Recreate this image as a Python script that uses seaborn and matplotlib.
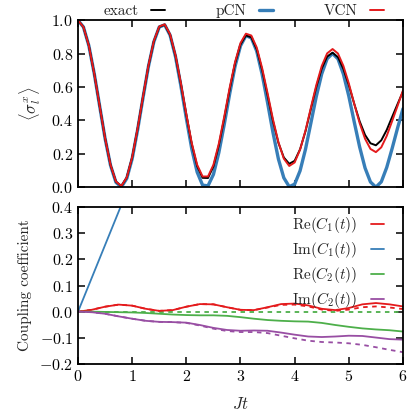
import numpy as np
import pandas as pd
import seaborn as sns
import matplotlib.pyplot as plt

# top panel: <sigma_l^x>(Jt), sampled every 0.1
t_top = [round(0.1 * i, 1) for i in range(61)]
exact = [1.000, 0.960, 0.848, 0.680, 0.486, 0.293, 0.133, 0.033, 0.006, 0.058,
         0.178, 0.350, 0.541, 0.727, 0.874, 0.961, 0.974, 0.913, 0.787, 0.617,
         0.432, 0.259, 0.126, 0.056, 0.055, 0.124, 0.251, 0.413, 0.586, 0.742,
         0.855, 0.910, 0.898, 0.826, 0.702, 0.551, 0.396, 0.266, 0.178, 0.140,
         0.158, 0.227, 0.335, 0.469, 0.601, 0.711, 0.783, 0.806, 0.779, 0.709,
         0.611, 0.500, 0.395, 0.313, 0.263, 0.251, 0.281, 0.343, 0.421, 0.498,
         0.573]
pcn = [1.000, 0.960, 0.848, 0.680, 0.485, 0.291, 0.131, 0.029, 0.001, 0.052,
       0.171, 0.343, 0.536, 0.723, 0.871, 0.960, 0.973, 0.911, 0.782, 0.606,
       0.413, 0.230, 0.090, 0.012, 0.008, 0.076, 0.207, 0.376, 0.559, 0.725,
       0.847, 0.908, 0.895, 0.815, 0.676, 0.506, 0.327, 0.169, 0.056, 0.003,
       0.018, 0.098, 0.227, 0.385, 0.544, 0.679, 0.770, 0.801, 0.769, 0.678,
       0.546, 0.391, 0.241, 0.115, 0.031, 0.000, 0.032, 0.118, 0.232, 0.354,
       0.470]
vcn = [1.000, 0.960, 0.848, 0.680, 0.486, 0.293, 0.134, 0.034, 0.007, 0.059,
       0.180, 0.352, 0.543, 0.729, 0.876, 0.963, 0.976, 0.916, 0.791, 0.622,
       0.437, 0.265, 0.134, 0.064, 0.064, 0.134, 0.261, 0.423, 0.596, 0.751,
       0.864, 0.920, 0.909, 0.837, 0.713, 0.563, 0.406, 0.270, 0.171, 0.127,
       0.148, 0.225, 0.339, 0.477, 0.612, 0.726, 0.802, 0.828, 0.801, 0.727,
       0.622, 0.500, 0.384, 0.290, 0.229, 0.210, 0.239, 0.307, 0.396, 0.487,
       0.580]

# bottom panel: coupling coefficients, sampled every 0.25
t_bot = [0.25 * i for i in range(25)]
re_c1 = [0.000, 0.007, 0.019, 0.027, 0.023, 0.011, 0.003, 0.006, 0.019, 0.029,
         0.028, 0.017, 0.007, 0.006, 0.017, 0.029, 0.031, 0.024, 0.011, 0.006,
         0.014, 0.028, 0.033, 0.028, 0.020]
re_c1_ref = [0.000, 0.007, 0.019, 0.027, 0.023, 0.011, 0.003, 0.006, 0.019, 0.029,
             0.028, 0.017, 0.007, 0.006, 0.016, 0.026, 0.027, 0.020, 0.008, 0.003,
             0.008, 0.017, 0.020, 0.016, 0.010]
t_im_c1 = [0, 1, 2, 3, 4, 5, 6]
im_c1 = [0.0, 0.51, 1.02, 1.53, 2.04, 2.55, 3.06]
re_c2 = [0.000, 0.000, -0.001, -0.002, -0.003, -0.005, -0.008, -0.011, -0.013, -0.014,
         -0.014, -0.016, -0.021, -0.027, -0.032, -0.035, -0.037, -0.038, -0.043, -0.051,
         -0.058, -0.064, -0.068, -0.071, -0.076]
re_c2_ref = [0.0] * 25
im_c2 = [0.000, -0.002, -0.008, -0.018, -0.027, -0.035, -0.039, -0.040, -0.042, -0.051,
         -0.062, -0.070, -0.073, -0.072, -0.073, -0.080, -0.088, -0.095, -0.097, -0.095,
         -0.092, -0.093, -0.099, -0.105, -0.107]
im_c2_ref = [0.000, -0.002, -0.008, -0.018, -0.027, -0.035, -0.039, -0.040, -0.043, -0.053,
             -0.065, -0.074, -0.078, -0.078, -0.082, -0.092, -0.102, -0.111, -0.116, -0.118,
             -0.121, -0.127, -0.136, -0.146, -0.155]

red, blue, green, purple = '#e41a1c', '#377eb8', '#4daf4a', '#984ea3'

sns.set_style('ticks')
plt.rcParams['font.family'] = ['cmr10', 'DejaVu Serif']
plt.rcParams['mathtext.fontset'] = 'cm'
plt.rcParams['axes.formatter.use_mathtext'] = True

fig = plt.figure(figsize=(4.15, 4.15), dpi=100)
ax1 = fig.add_axes([0.188, 0.549, 0.783, 0.402])
ax2 = fig.add_axes([0.188, 0.123, 0.783, 0.378])

sns.lineplot(x=t_top, y=pcn, ax=ax1, color=blue, lw=2.4, label='pCN')
sns.lineplot(x=t_top, y=exact, ax=ax1, color='black', lw=1.4, label='exact')
sns.lineplot(x=t_top, y=vcn, ax=ax1, color=red, lw=1.4, label='VCN')

dash = (0, (2.5, 2.5))
sns.lineplot(x=t_bot, y=re_c1_ref, ax=ax2, color=red, lw=1.3, ls=dash)
sns.lineplot(x=t_bot, y=re_c2_ref, ax=ax2, color=green, lw=1.3, ls=dash)
sns.lineplot(x=t_bot, y=im_c2_ref, ax=ax2, color=purple, lw=1.3, ls=dash)
sns.lineplot(x=t_bot, y=re_c1, ax=ax2, color=red, lw=1.3, label=r'$\mathrm{Re}(C_1(t))$')
sns.lineplot(x=t_im_c1, y=im_c1, ax=ax2, color=blue, lw=1.3, label=r'$\mathrm{Im}(C_1(t))$')
sns.lineplot(x=t_bot, y=re_c2, ax=ax2, color=green, lw=1.3, label=r'$\mathrm{Re}(C_2(t))$')
sns.lineplot(x=t_bot, y=im_c2, ax=ax2, color=purple, lw=1.3, label=r'$\mathrm{Im}(C_2(t))$')

for ax in (ax1, ax2):
    ax.set_xlim(0, 6)
    ax.set_xticks(range(7))
    ax.tick_params(direction='in', top=True, right=True, length=5, width=1.1,
                   labelsize=11.5, colors='black')
    for s in ax.spines.values():
        s.set_linewidth(1.3)
        s.set_color('black')

ax1.set_ylim(0, 1)
yt1 = np.round(np.arange(0, 1.01, 0.2), 1)
ax1.set_yticks(yt1)
ax1.set_yticklabels([f'${v:.1f}$' for v in yt1])
ax1.tick_params(labelbottom=False)
ax1.set_ylabel(r'$\langle\sigma_l^x\rangle$', fontsize=12, labelpad=6)

ax2.set_ylim(-0.2, 0.4)
yt2 = np.round(np.arange(-0.2, 0.41, 0.1), 1)
ax2.set_yticks(yt2)
ax2.set_yticklabels([f'${v:.1f}$' for v in yt2])
ax2.set_xticklabels([f'${v}$' for v in range(7)])
ax2.set_xlabel(r'$Jt$', fontsize=12, labelpad=9)
ax2.set_ylabel('Coupling coefficient', fontsize=11, labelpad=5)

h, l = ax1.get_legend_handles_labels()
order = [l.index('exact'), l.index('pCN'), l.index('VCN')]
ax1.legend([h[i] for i in order], [l[i] for i in order], loc='lower center',
           bbox_to_anchor=(0.51, 0.975), ncol=3, frameon=False, markerfirst=False,
           handlelength=0.9, columnspacing=3.35, handletextpad=0.8, fontsize=11,
           borderaxespad=0.0)
ax2.legend(loc='upper right', frameon=False, markerfirst=False, handlelength=0.9,
           handletextpad=0.9, fontsize=11, labelspacing=0.33,
           bbox_to_anchor=(0.985, 1.035))

fig.savefig('out.png', dpi=100)
